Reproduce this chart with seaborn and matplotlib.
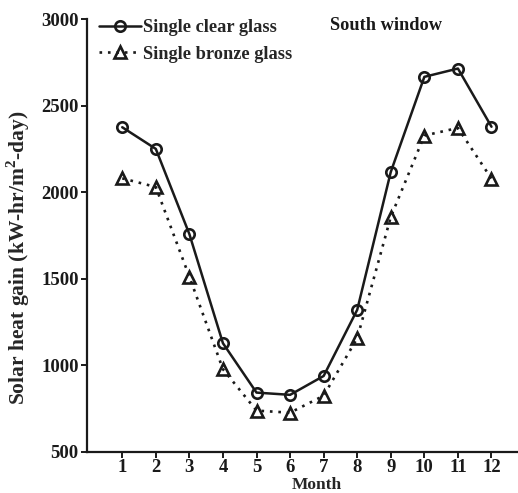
import matplotlib
matplotlib.use("Agg")
import matplotlib.pyplot as plt
import seaborn as sns
import pandas as pd

months = [1, 2, 3, 4, 5, 6, 7, 8, 9, 10, 11, 12]
clear_glass = [2375, 2250, 1758, 1128, 843, 830, 939, 1321, 2117, 2666, 2714, 2378]
bronze_glass = [2080, 2030, 1512, 978, 739, 727, 825, 1157, 1857, 2327, 2371, 2078]
series_names = ["Single clear glass", "Single bronze glass"]
y_ticks = [500, 1000, 1500, 2000, 2500, 3000]

sns.set_style("ticks")
plt.rcParams["font.family"] = ["Liberation Serif", "DejaVu Serif"]
plt.rcParams["mathtext.fontset"] = "custom"
plt.rcParams["mathtext.rm"] = "Liberation Serif"
plt.rcParams["mathtext.bf"] = "Liberation Serif:bold"

fig = plt.figure(figsize=(5.18, 4.93), dpi=100)
ax = fig.add_axes([87 / 518, 1 - 452 / 493, (517 - 87) / 518, (452 - 19) / 493])

df_clear = pd.DataFrame({"Month": months, "Gain": clear_glass})
df_bronze = pd.DataFrame({"Month": months, "Gain": bronze_glass})

sns.lineplot(data=df_clear, x="Month", y="Gain", ax=ax, color="#1a1a1a",
             linewidth=1.8, marker="o", markersize=7.5, markerfacecolor="none",
             markeredgecolor="#1a1a1a", markeredgewidth=1.9, label=series_names[0])
sns.lineplot(data=df_bronze, x="Month", y="Gain", ax=ax, color="#1a1a1a",
             linewidth=1.9, linestyle=(0, (1, 2.2)), marker="^", markersize=8.5,
             markerfacecolor="none", markeredgecolor="#1a1a1a", markeredgewidth=1.9,
             label=series_names[1])

ax.set_xlim(-0.05, 12.76)
ax.set_ylim(500, 3000)
ax.set_xticks(months)
ax.set_xticklabels([str(m) for m in months])
ax.set_yticks(y_ticks)

for s in ["top", "right"]:
    ax.spines[s].set_visible(False)
for s in ["left", "bottom"]:
    ax.spines[s].set_linewidth(1.6)
    ax.spines[s].set_color("#1a1a1a")

ax.tick_params(axis="both", direction="out", length=4, width=1.4, colors="#1a1a1a",
               labelsize=13.5, pad=2)
ax.tick_params(axis="x", pad=1)
for lab in ax.get_xticklabels() + ax.get_yticklabels():
    lab.set_fontweight("bold")

ax.set_xlabel("Month", fontsize=12.5, fontweight="bold")
ax.xaxis.set_label_coords((317 - 87) / 430, -(477 - 452) / 433)
ax.set_ylabel("Solar heat gain (kW-hr/m$^\\mathbf{2}$-day)", fontsize=15.5, fontweight="bold")
ax.yaxis.set_label_coords(-(87 - 32) / 430, (452 - 258) / 433)

ax.text(7.2, 2960, "South window", fontsize=13.2, fontweight="bold",
        va="center", ha="left", color="#1a1a1a")

leg = ax.legend(loc="upper left", bbox_to_anchor=(0.028, 1.0), frameon=False,
                handlelength=2.3, handletextpad=0.1, labelspacing=0.52,
                borderpad=0, borderaxespad=0,
                prop={"family": "Liberation Serif", "size": 13.2, "weight": "bold"})

fig.savefig("out.png", dpi=100)
